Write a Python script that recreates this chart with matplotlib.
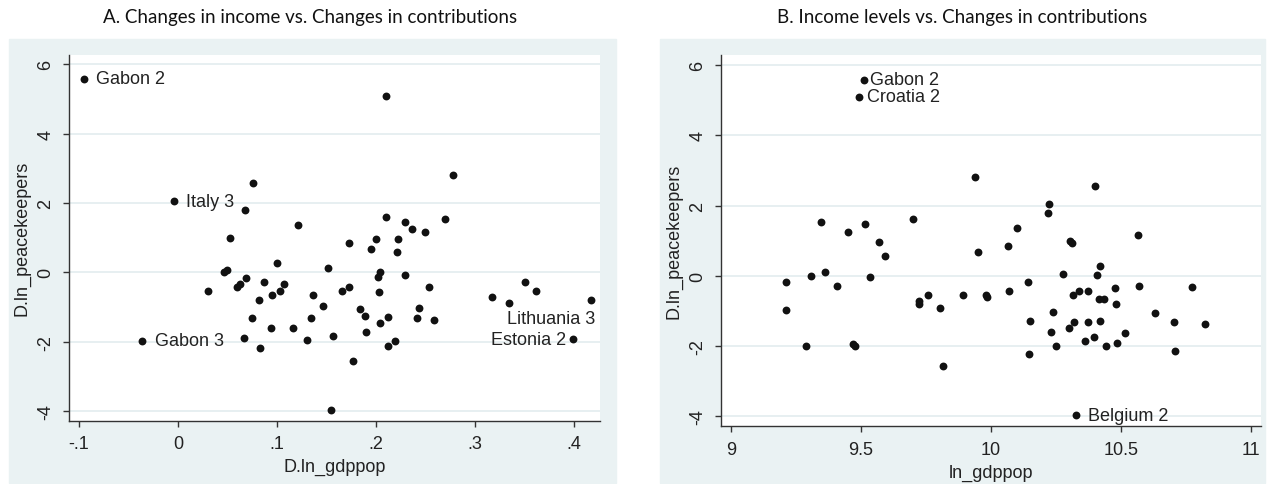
import matplotlib
matplotlib.use("Agg")
import matplotlib.pyplot as plt
from matplotlib.patches import Rectangle

# panel A: change in log income vs change in log peacekeepers
d_gdp = [-0.095, -0.004, 0.076, 0.068, 0.121, 0.053, 0.100, 0.046, 0.049, 0.030,
         0.069, 0.060, 0.063, 0.087, 0.107, 0.103, 0.095, 0.082, 0.136, 0.075,
         0.134, 0.094, 0.116, -0.036, 0.067, 0.130, 0.083, 0.210, 0.278, 0.210,
         0.229, 0.236, 0.249, 0.270, 0.173, 0.200, 0.222, 0.195, 0.221, 0.151,
         0.204, 0.202, 0.229, 0.166, 0.173, 0.203, 0.253, 0.146, 0.184, 0.189,
         0.212, 0.204, 0.243, 0.241, 0.258, 0.190, 0.156, 0.219, 0.212, 0.177,
         0.154, 0.317, 0.334, 0.350, 0.361, 0.417, 0.399]
d_peace_a = [5.58, 2.05, 2.57, 1.81, 1.37, 0.99, 0.28, 0.00, 0.08, -0.54,
             -0.16, -0.42, -0.34, -0.29, -0.35, -0.55, -0.66, -0.79, -0.66, -1.32,
             -1.32, -1.62, -1.60, -1.97, -1.90, -1.95, -2.19, 5.08, 2.81, 1.60,
             1.46, 1.24, 1.17, 1.54, 0.85, 0.95, 0.96, 0.67, 0.58, 0.12,
             0.01, -0.14, -0.07, -0.53, -0.43, -0.57, -0.42, -0.96, -1.06, -1.27,
             -1.29, -1.47, -1.03, -1.32, -1.37, -1.71, -1.85, -1.98, -2.13, -2.56,
             -3.96, -0.70, -0.89, -0.28, -0.55, -0.79, -1.93]
names_a = {0: "Gabon 2", 1: "Italy 3", 23: "Gabon 3", 65: "Lithuania 3", 66: "Estonia 2"}

# panel B: log income level vs change in log peacekeepers
ln_gdp = [9.512, 9.493, 9.348, 9.451, 9.516, 9.702, 9.569, 9.594, 9.309, 9.363,
          9.534, 9.212, 9.407, 9.212, 9.289, 9.471, 9.478, 9.725, 9.725, 9.760,
          9.803, 9.817, 9.939, 10.401, 10.225, 10.219, 10.101, 10.566, 10.304, 10.314,
          10.068, 9.952, 10.421, 10.280, 10.408, 10.142, 9.892, 9.982, 9.984, 10.070,
          10.318, 10.341, 10.373, 10.479, 10.571, 10.775, 10.416, 10.437, 10.481, 10.240,
          10.631, 10.150, 10.322, 10.376, 10.422, 10.706, 10.825, 10.232, 10.302, 10.517,
          10.398, 10.362, 10.485, 10.251, 10.445, 10.149, 10.709, 10.328]
d_peace_b = [5.59, 5.10, 1.54, 1.25, 1.47, 1.61, 0.96, 0.57, 0.00, 0.10,
             -0.04, -0.18, -0.28, -0.97, -2.00, -1.94, -1.99, -0.71, -0.80, -0.54,
             -0.90, -2.57, 2.82, 2.57, 2.06, 1.80, 1.36, 1.17, 0.99, 0.95,
             0.84, 0.68, 0.27, 0.06, 0.02, -0.17, -0.55, -0.54, -0.60, -0.43,
             -0.54, -0.42, -0.44, -0.35, -0.29, -0.32, -0.67, -0.67, -0.79, -1.04,
             -1.06, -1.29, -1.31, -1.32, -1.28, -1.31, -1.37, -1.60, -1.49, -1.62,
             -1.73, -1.85, -1.90, -1.98, -1.98, -2.21, -2.13, -3.96]
names_b = {0: "Gabon 2", 1: "Croatia 2", 67: "Belgium 2"}

xticks_a = [-0.1, 0, 0.1, 0.2, 0.3, 0.4]
xticklabels_a = ["-.1", "0", ".1", ".2", ".3", ".4"]
xticks_b = [9, 9.5, 10, 10.5, 11]
xticklabels_b = ["9", "9.5", "10", "10.5", "11"]
yticks = [-4, -2, 0, 2, 4, 6]

# label offsets (points) and alignment
offs_a = {0: ((8.6, 0), "left"), 1: ((8.9, 0), "left"), 23: ((8.9, 0), "left"),
          65: ((3, -13.4), "right"), 66: ((-5, 0), "right")}
offs_b = {0: ((4.3, 0), "left"), 1: ((5.5, 0), "left"), 67: ((8.6, 0), "left")}

region = "#EAF2F3"
gridc = "#E3ECEF"
axc = "#333333"
fs = 13
plt.rcParams["font.family"] = ["Liberation Sans", "DejaVu Sans"]

fig = plt.figure(figsize=(12.75, 4.85), dpi=100)
fig.patches.append(Rectangle((9/1275, 1 - 484/485), 607/1275, 444/485,
                             transform=fig.transFigure, color=region, zorder=-10))
fig.patches.append(Rectangle((660/1275, 1 - 484/485), 605/1275, 444/485,
                             transform=fig.transFigure, color=region, zorder=-10))

ax1 = fig.add_axes([69/1275, 1 - 421.7/485, 531/1275, 365.7/485])
ax2 = fig.add_axes([721/1275, 1 - 427.3/485, 539.7/1275, 371.3/485])


def style(ax, xt, xtl, xlim, ylim, xlabel):
    ax.set_facecolor("white")
    for s in ["top", "right"]:
        ax.spines[s].set_visible(False)
    for s in ["left", "bottom"]:
        ax.spines[s].set_color(axc)
        ax.spines[s].set_linewidth(1.0)
    ax.set_xlim(*xlim)
    ax.set_ylim(*ylim)
    ax.set_xticks(xt)
    ax.set_xticklabels(xtl)
    ax.set_yticks(yticks)
    ax.set_yticklabels([str(v) for v in yticks], rotation=90, va="center")
    ax.tick_params(direction="out", length=4.5, width=1.0, color=axc,
                   labelsize=fs, labelcolor="#222222", pad=6)
    ax.yaxis.grid(True, color=gridc, linewidth=1.2)
    ax.set_axisbelow(True)
    ax.set_xlabel(xlabel, fontsize=fs, color="#222222", labelpad=4)
    ax.set_ylabel("D.ln_peacekeepers", fontsize=fs, color="#222222", labelpad=5)


def draw(ax, x, y, names, offs):
    ax.scatter(x, y, s=32, color="#111111", zorder=3, linewidths=0)
    for i, name in names.items():
        (dx, dy), ha = offs[i]
        ax.annotate(name, (x[i], y[i]), xytext=(dx, dy), textcoords="offset points",
                    ha=ha, va="center", fontsize=fs, color="#222222")


draw(ax1, d_gdp, d_peace_a, names_a, offs_a)
style(ax1, xticks_a, xticklabels_a, (-0.110, 0.426), (-4.28, 6.27), "D.ln_gdppop")

draw(ax2, ln_gdp, d_peace_b, names_b, offs_b)
style(ax2, xticks_b, xticklabels_b, (8.962, 11.039), (-4.28, 6.29), "ln_gdppop")

fig.text(310/1275, 1 - 17/485, "A. Changes in income vs. Changes in contributions",
         ha="center", va="center", fontsize=13.5, family="Lato", color="#111111")
fig.text(962/1275, 1 - 17/485, "B. Income levels vs. Changes in contributions",
         ha="center", va="center", fontsize=13.5, family="Lato", color="#111111")

fig.savefig("out.png", dpi=100)
